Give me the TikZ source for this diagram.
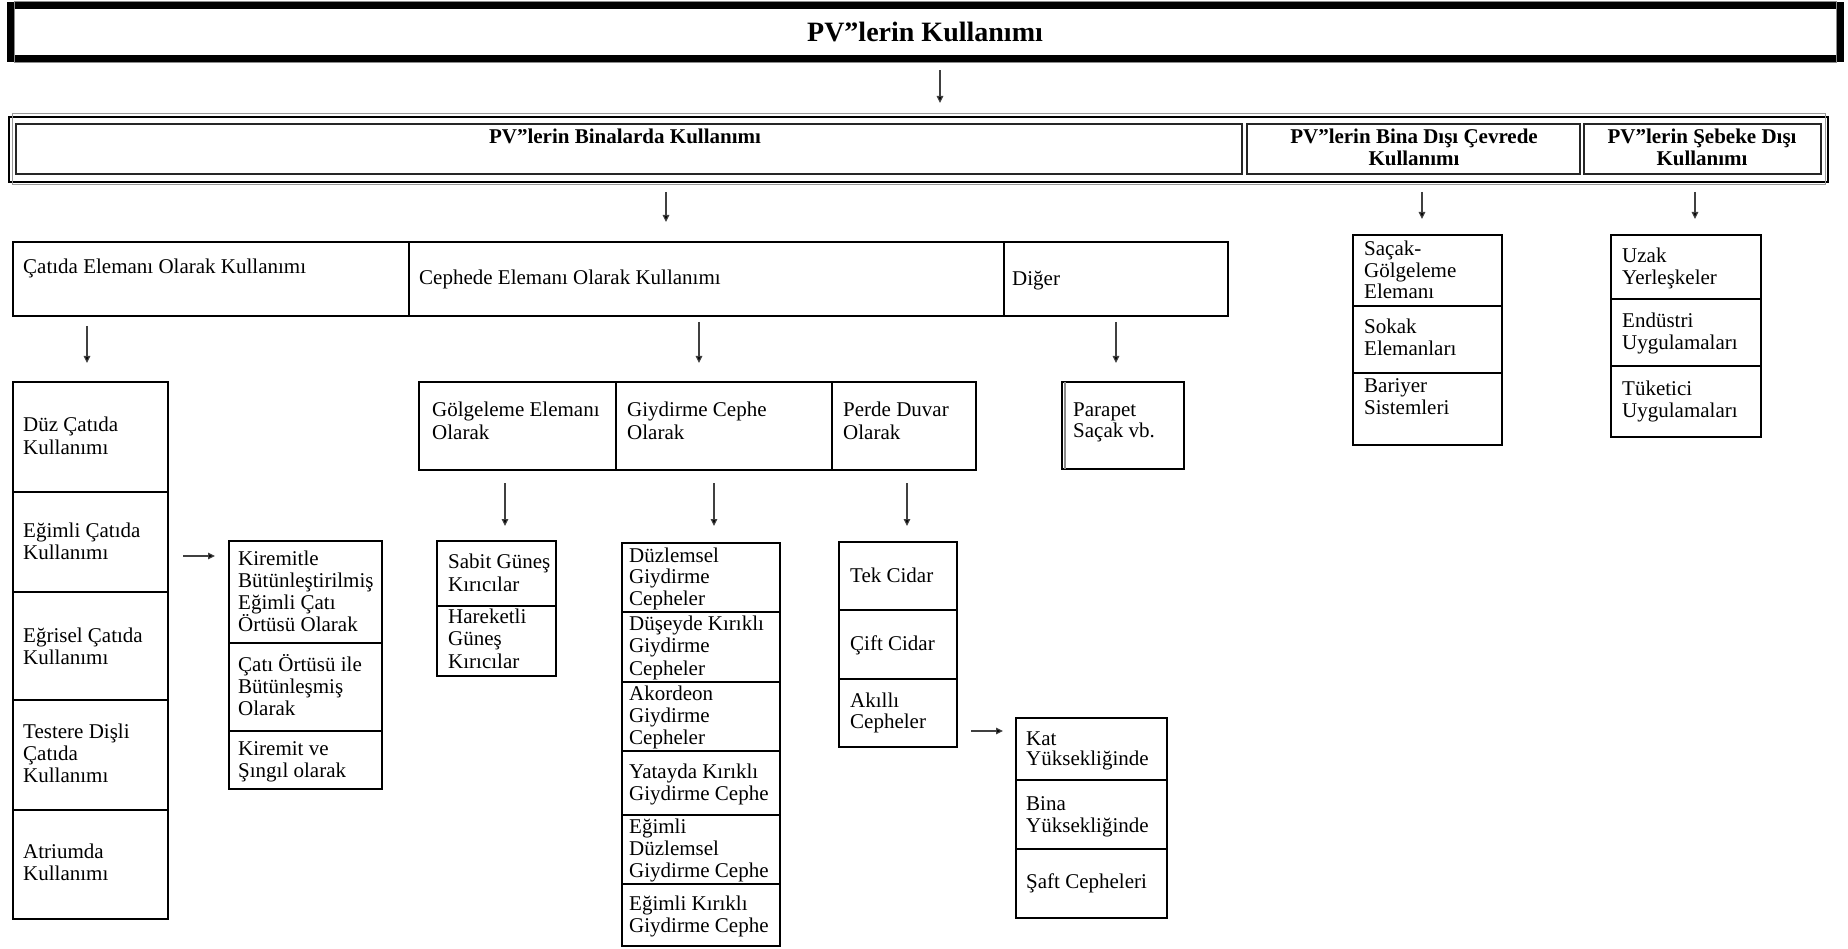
\documentclass[tikz,border=0pt]{standalone}
\usepackage{fontspec}
\setmainfont{Liberation Serif}
\usetikzlibrary{arrows.meta}
\newcommand\rfont{\fontsize{21}{22}\selectfont}
\newcommand\hfont{\fontsize{21}{22}\selectfont\bfseries}
\newcommand\tfont{\fontsize{28}{30}\selectfont\bfseries}
% box by corners: [options]{name}{x1}{y1}{x2}{y2}
\newcommand\bx[6][]{\node[cellbox,#1,minimum width={#5-#3},minimum height={#6-#4}] (#2) at (#3,#4) {};}
% left-aligned lines: [spacing]{name}{x}{first baseline}{lines}
\newcommand\tx[5][22]{\foreach \tline [count=\k from 0] in {#5}{\node[txt] (#2-\k) at (#3,{#4+#1*\k}) {\tline};}}
\begin{document}
\begin{tikzpicture}[x=1pt,y=-1pt,
  cellbox/.style={draw=black, line width=2.4pt, inner sep=0pt, outer sep=0pt, anchor=north west},
  txt/.style={anchor=base west, inner sep=0pt, font=\rfont},
  hdr/.style={anchor=base, inner sep=0pt, font=\hfont},
  arr/.style={draw=black!75, line width=1.1pt, -{Triangle[length=7pt,width=6.5pt,fill=black]}}
]
\useasboundingbox (0,0) rectangle (1848,949);
\fill[white] (0,0) rectangle (1848,949);

% ---------- top box
\bx[line width=7pt]{top}{10.5}{5.5}{1840.5}{58.5}
\draw[black!45, line width=1.2pt] ([shift={(4.2,-4.2)}]top.north west) rectangle ([shift={(-4.2,4.2)}]top.south east);
\node[anchor=base, inner sep=0pt, font=\tfont] (title) at (925,42) {PV”lerin Kullanımı};

% ---------- row 2
\bx[line width=2pt]{row2}{9}{117}{1828}{182}
\draw[black!40, line width=1pt] ([shift={(3,-3)}]row2.north west) rectangle ([shift={(-3,3)}]row2.south east);
\bx[line width=1.8pt, draw=black!85]{r2a}{16}{124}{1242}{174}
\bx[line width=1.8pt, draw=black!85]{r2b}{1247}{124}{1580}{174}
\bx[line width=1.8pt, draw=black!85]{r2c}{1584}{124}{1821}{174}
\node[hdr] (t-r2a) at (625,144) {PV”lerin Binalarda Kullanımı};
\node[hdr] (t-r2b-0) at (1414,144) {PV”lerin Bina Dışı Çevrede};
\node[hdr] (t-r2b-1) at (1414,166) {Kullanımı};
\node[hdr] (t-r2c-0) at (1702,144) {PV”lerin Şebeke Dışı};
\node[hdr] (t-r2c-1) at (1702,166) {Kullanımı};

% ---------- row 3
\bx{r3a}{13}{242}{409}{316}
\bx{r3b}{409}{242}{1004}{316}
\bx{r3c}{1004}{242}{1228}{316}
\tx{t-r3a}{23}{274}{Çatıda Elemanı Olarak Kullanımı}
\tx{t-r3b}{419}{285}{Cephede Elemanı Olarak Kullanımı}
\tx{t-r3c}{1012}{286}{Diğer}

% ---------- Bina dışı column
\bx{bd1}{1353}{235}{1502}{306}
\bx{bd2}{1353}{306}{1502}{373}
\bx{bd3}{1353}{373}{1502}{445}
\tx[21.5]{t-bd1}{1364}{256}{Saçak-,Gölgeleme,Elemanı}
\tx{t-bd2}{1364}{334}{Sokak,Elemanları}
\tx{t-bd3}{1364}{393}{Bariyer,Sistemleri}

% ---------- Şebeke dışı column
\bx{sd1}{1611}{235}{1761}{299}
\bx{sd2}{1611}{299}{1761}{366}
\bx{sd3}{1611}{366}{1761}{437}
\tx{t-sd1}{1622}{263}{Uzak,Yerleşkeler}
\tx{t-sd2}{1622}{328}{Endüstri,Uygulamaları}
\tx{t-sd3}{1622}{396}{Tüketici,Uygulamaları}

% ---------- Çatıda column
\bx{ct1}{13}{382}{168}{492}
\bx{ct2}{13}{492}{168}{592}
\bx{ct3}{13}{592}{168}{700}
\bx{ct4}{13}{700}{168}{810}
\bx{ct5}{13}{810}{168}{919}
\tx{t-ct1}{23}{432}{Düz Çatıda,Kullanımı}
\tx{t-ct2}{23}{537}{Eğimli Çatıda,Kullanımı}
\tx{t-ct3}{23}{642}{Eğrisel Çatıda,Kullanımı}
\tx{t-ct4}{23}{738}{Testere Dişli,Çatıda,Kullanımı}
\tx{t-ct5}{23}{858}{Atriumda,Kullanımı}

% ---------- Kiremit column
\bx{km1}{229}{541}{382}{643}
\bx{km2}{229}{643}{382}{731}
\bx{km3}{229}{731}{382}{789}
\tx{t-km1}{238}{565}{Kiremitle,Bütünleştirilmiş,Eğimli Çatı,Örtüsü Olarak}
\tx{t-km2}{238}{671}{Çatı Örtüsü ile,Bütünleşmiş,Olarak}
\tx{t-km3}{238}{755}{Kiremit ve,Şıngıl olarak}

% ---------- Cephe sub-table
\bx{cp1}{419}{382}{616}{470}
\bx{cp2}{616}{382}{832}{470}
\bx{cp3}{832}{382}{976}{470}
\tx{t-cp1}{432}{417}{Gölgeleme Elemanı,Olarak}
\tx{t-cp2}{627}{417}{Giydirme Cephe,Olarak}
\tx{t-cp3}{843}{417}{Perde Duvar,Olarak}

% ---------- Parapet
\bx{par}{1062}{382}{1184}{469}
\draw[black!45, line width=2pt] ([xshift=3pt]par.north west) -- ([xshift=3pt]par.south west);
\tx[21]{t-par}{1073}{417}{Parapet,Saçak vb.}

% ---------- Gölgeleme sub
\bx{gg1}{437}{541}{556}{606}
\bx{gg2}{437}{606}{556}{676}
\tx[23]{t-gg1}{448}{568}{Sabit Güneş,Kırıcılar}
\tx[22.5]{t-gg2}{448}{623}{Hareketli,Güneş,Kırıcılar}

% ---------- Giydirme sub
\bx{gy1}{622}{543}{780}{612}
\bx{gy2}{622}{612}{780}{682}
\bx{gy3}{622}{682}{780}{751}
\bx{gy4}{622}{751}{780}{815}
\bx{gy5}{622}{815}{780}{884}
\bx{gy6}{622}{884}{780}{946}
\tx[21.5]{t-gy1}{629}{562}{Düzlemsel,Giydirme,Cepheler}
\tx[22.5]{t-gy2}{629}{630}{Düşeyde Kırıklı,Giydirme,Cepheler}
\tx[22]{t-gy3}{629}{700}{Akordeon,Giydirme,Cepheler}
\tx{t-gy4}{629}{778}{Yatayda Kırıklı,Giydirme Cephe}
\tx{t-gy5}{629}{833}{Eğimli,Düzlemsel,Giydirme Cephe}
\tx{t-gy6}{629}{910}{Eğimli Kırıklı,Giydirme Cephe}

% ---------- Perde sub
\bx{pd1}{839}{542}{957}{610}
\bx{pd2}{839}{610}{957}{679}
\bx{pd3}{839}{679}{957}{747}
\tx{t-pd1}{850}{582}{Tek Cidar}
\tx{t-pd2}{850}{650}{Çift Cidar}
\tx[21]{t-pd3}{850}{707}{Akıllı,Cepheler}

% ---------- Akıllı sub
\bx{ak1}{1016}{718}{1167}{780}
\bx{ak2}{1016}{780}{1167}{849}
\bx{ak3}{1016}{849}{1167}{918}
\tx[20.5]{t-ak1}{1026}{745}{Kat,Yüksekliğinde}
\tx{t-ak2}{1026}{810}{Bina,Yüksekliğinde}
\tx{t-ak3}{1026}{888}{Şaft Cepheleri}

% ---------- arrows
\coordinate (x1) at (940,0);
\coordinate (x2) at (666,0);
\coordinate (x3) at (1422,0);
\coordinate (x4) at (1695,0);
\coordinate (x5) at (87,0);
\coordinate (x6) at (699,0);
\coordinate (x7) at (1116,0);
\coordinate (x8) at (505,0);
\coordinate (x9) at (714,0);
\coordinate (x10) at (907,0);
\coordinate (y1) at (0,556);
\coordinate (y2) at (0,731);
\draw[arr, shorten <=12pt, shorten >=14pt] (top.south -| x1) -- (row2.north -| x1);
\draw[arr, shorten <=10pt, shorten >=20pt] (row2.south -| x2) -- (r3b.north -| x2);
\draw[arr, shorten <=10pt, shorten >=16pt] (row2.south -| x3) -- (bd1.north -| x3);
\draw[arr, shorten <=10pt, shorten >=16pt] (row2.south -| x4) -- (sd1.north -| x4);
\draw[arr, shorten <=10pt, shorten >=19pt] (r3a.south -| x5) -- (ct1.north -| x5);
\draw[arr, shorten <=6pt, shorten >=19pt] (r3b.south -| x6) -- (cp2.north -| x6);
\draw[arr, shorten <=6pt, shorten >=19pt] (r3c.south -| x7) -- (par.north -| x7);
\draw[arr, shorten <=13pt, shorten >=15pt] (cp1.south -| x8) -- (gg1.north -| x8);
\draw[arr, shorten <=13pt, shorten >=17pt] (cp2.south -| x9) -- (gy1.north -| x9);
\draw[arr, shorten <=13pt, shorten >=16pt] (cp3.south -| x10) -- (pd1.north -| x10);
\draw[arr, shorten <=15pt, shorten >=14pt] (ct2.east |- y1) -- (km1.west |- y1);
\draw[arr, shorten <=14pt, shorten >=13pt] (pd3.east |- y2) -- (ak1.west |- y2);
\end{tikzpicture}
\end{document}
